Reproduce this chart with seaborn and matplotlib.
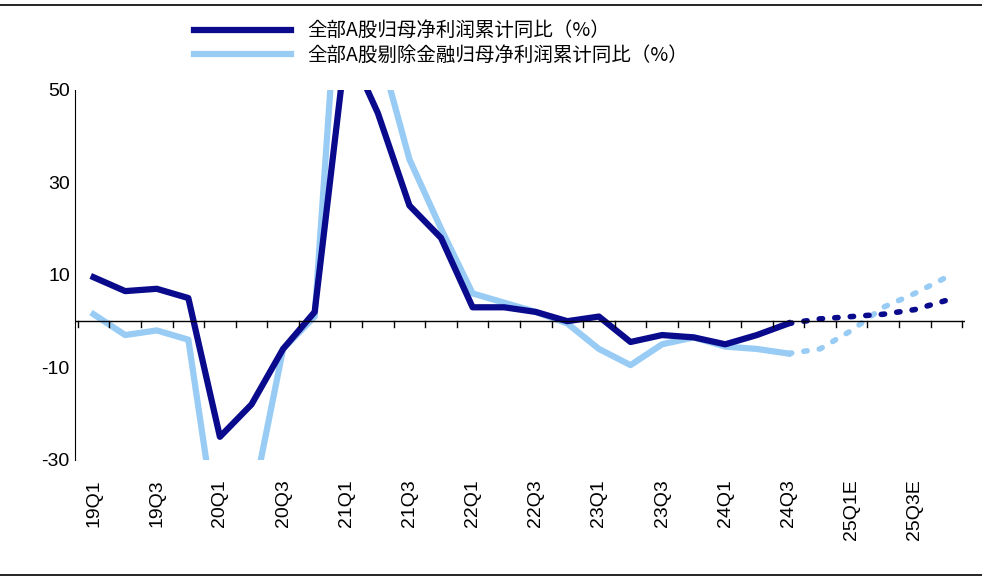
import matplotlib
matplotlib.use("Agg")
import matplotlib.pyplot as plt
from matplotlib import font_manager as fm
import seaborn as sns
import pandas as pd
import numpy as np

quarters = ["19Q1","19Q2","19Q3","19Q4","20Q1","20Q2","20Q3","20Q4",
            "21Q1","21Q2","21Q3","21Q4","22Q1","22Q2","22Q3","22Q4",
            "23Q1","23Q2","23Q3","23Q4","24Q1","24Q2","24Q3",
            "24Q4E","25Q1E","25Q2E","25Q3E","25Q4E"]
all_a = [9.5,6.5,7,5,-25,-18,-6,2,
         60,45,25,18,3,3,2,0,
         1,-4.5,-3,-3.5,-5,-3,-0.5,
         0.5,1,1.5,2.5,4.5]
ex_fin = [1.5,-3,-2,-4,-50,-40,-6,1,
          100,60,35,20,6,4,2,-0.5,
          -6,-9.5,-5,-3.5,-5.5,-6,-7,
          -6,-2,3,6,9.5]
n_actual = 23
label_dark = "全部A股归母净利润累计同比（%）"
label_light = "全部A股剔除金融归母净利润累计同比（%）"
dark = "#0a0a8c"
light = "#99ccf5"

cjk = None
for f in fm.findSystemFonts():
    if "CJK" in f and ("SC" in f or "cjk" in f.lower()):
        cjk = f
        if "SC" in f:
            break
if cjk:
    fm.fontManager.addfont(cjk)
    cjk_prop = fm.FontProperties(fname=cjk, size=14)
else:
    cjk_prop = fm.FontProperties(family="Noto Sans CJK SC", size=14)

plt.rcParams["font.family"] = ["Liberation Sans"]
plt.rcParams["axes.unicode_minus"] = False
fig = plt.figure(figsize=(9.82, 5.8), dpi=100)
ax = fig.add_axes([0.076, 0.207, 0.907, 0.638])
x = np.arange(len(quarters))
df = pd.DataFrame({"x": x, "a": all_a, "b": ex_fin})
act = df.iloc[:n_actual]
fc = df.iloc[n_actual - 1:]
sns.lineplot(data=act, x="x", y="b", ax=ax, color=light, lw=4.5, label=label_light)
sns.lineplot(data=act, x="x", y="a", ax=ax, color=dark, lw=4.5, label=label_dark)
sns.lineplot(data=fc, x="x", y="b", ax=ax, color=light, lw=4, linestyle=(0, (0.6, 2.2)), dash_capstyle="round")
sns.lineplot(data=fc, x="x", y="a", ax=ax, color=dark, lw=4, linestyle=(0, (0.6, 2.2)), dash_capstyle="round")

ax.set_ylim(-30, 50)
ax.set_xlim(-0.6, len(quarters) - 0.4)
ax.set_yticks([-30, -10, 10, 30, 50])
ax.set_xticks(x[::2])
ax.set_xticklabels(quarters[::2], rotation=90, fontsize=14)
ax.tick_params(axis="y", labelsize=14, length=0)
ax.tick_params(axis="x", length=0, pad=14)
ax.set_xlabel(""); ax.set_ylabel("")
for s in ["top", "right", "bottom"]:
    ax.spines[s].set_visible(False)
ax.spines["left"].set_color("black")
ax.axhline(0, color="black", lw=1)
for t in np.arange(-0.5, len(quarters), 1):
    ax.plot([t, t], [0, -1.2], color="black", lw=1)

h, l = ax.get_legend_handles_labels()
ax.get_legend().remove()
fig.legend([h[1], h[0]], [l[1], l[0]], loc="upper left", bbox_to_anchor=(0.18, 0.995),
           frameon=False, prop=cjk_prop, handlelength=5, labelspacing=0.2)
fig.add_artist(plt.Line2D([0, 1], [0.992, 0.992], color="black", lw=1.2, transform=fig.transFigure))
fig.add_artist(plt.Line2D([0, 1], [0.008, 0.008], color="black", lw=1.2, transform=fig.transFigure))
fig.savefig("out.png", dpi=100)
